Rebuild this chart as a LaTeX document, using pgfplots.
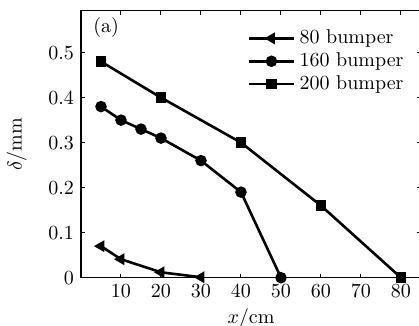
\documentclass[border=0pt]{standalone}
\usepackage{pgfplots}
\pgfplotsset{compat=1.18}
\begin{document}
\begin{tikzpicture}
\begin{axis}[
  name=ax,
  scale only axis,
  width=170pt, height=133.5pt,
  xmin=0, xmax=85, ymin=0, ymax=0.593,
  xtick={10,20,30,40,50,60,70,80},
  ytick={0,0.1,0.2,0.3,0.4,0.5},
  yticklabels={0,0.1,0.2,0.3,0.4,0.5},
  tick align=inside,
  major tick length=2pt,
  axis line style={line width=0.7pt},
  tick style={line width=0.5pt,black},
  xlabel={$x$/cm}, ylabel={$\delta$/mm},
  xlabel style={yshift=1.5pt},
  ylabel style={yshift=4pt},
  legend style={draw=none, fill=none, at={(axis cs:41.5,0.56)}, anchor=north west,
    inner sep=0pt, row sep=-1pt, font=\normalsize,
    cells={anchor=west}},
  legend image code/.code={\draw[#1, mark repeat=2, mark phase=2] plot coordinates {(0cm,0cm) (0.4cm,0cm) (0.8cm,0cm)};},
  every axis plot/.append style={line width=1.3pt, black},
]
\addplot[mark=triangle*, mark options={rotate=90, scale=1.1}] coordinates {(5,0.070) (10,0.041) (20,0.012) (30,0.001)};
\addlegendentry{80 bumper}
\addplot[mark=*, mark size=2.2pt] coordinates {(5,0.38) (10,0.35) (15,0.33) (20,0.31) (30,0.26) (40,0.19) (50,0.0)};
\addlegendentry{160 bumper}
\addplot[mark=square*, mark size=2pt] coordinates {(5,0.48) (20,0.40) (40,0.30) (60,0.16) (80,0.0)};
\addlegendentry{200 bumper}
\node at (axis cs:6.3,0.555) {(a)};
\end{axis}
\pgfresetboundingbox
\path[use as bounding box] ([shift={(-40.5pt,-24.15pt)}]ax.south west) rectangle ++(209.5pt,163pt);
\end{tikzpicture}
\end{document}
